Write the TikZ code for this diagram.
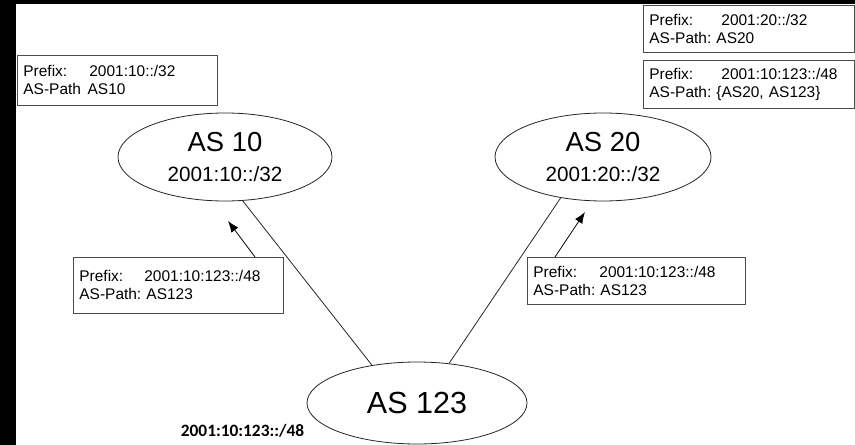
\documentclass[tikz,border=0pt]{standalone}
\usepackage{fontspec}
\setmainfont{Liberation Sans}
\newfontfamily\calibri{Carlito}
\usetikzlibrary{positioning,shapes,arrows.meta}
\frenchspacing

\begin{document}
\begin{tikzpicture}[x=0.75pt,y=-0.75pt,
  asnode/.style={draw=black!85, ellipse, inner sep=0pt, line width=0.6pt, align=center},
  infobox/.style={draw=black!70, rectangle, anchor=north west, inner xsep=4.5pt, inner ysep=0pt,
    line width=0.6pt, align=left, font=\fontsize{11.6}{13.5}\selectfont},
  big/.style={font=\fontsize{20.6}{22}\selectfont},
  link/.style={draw=black!85, line width=0.6pt},
  adv/.style={draw=black, line width=0.6pt, -{Latex[length=8.5pt,width=6.5pt]}}]
\useasboundingbox (0,0) rectangle (855,445);
\fill[black] (0,0) rectangle (855,445);
\fill[white] (16,4) rectangle (855,445);
\node[infobox, minimum width=150pt, minimum height=37.5pt, text width=141pt] (pfx10) at (17,55)
  {\makebox[49.5pt][l]{Prefix:}2001:10::/32\\AS-Path\hspace{5pt}AS10};
\node[infobox, minimum width=158.25pt, minimum height=35.25pt, text width=149.25pt] (pfx20) at (643,5)
  {\makebox[54pt][l]{Prefix:}2001:20::/32\\AS-Path: AS20};
\node[infobox, minimum width=158.25pt, minimum height=36pt, text width=149.25pt] (pfx123r) at (643,60)
  {\makebox[54pt][l]{Prefix:}2001:10:123::/48\\AS-Path: \{AS20, AS123\}};
\node[infobox, minimum width=157.5pt, minimum height=42pt, text width=148.5pt] (adv10) at (73,257)
  {\makebox[48.75pt][l]{Prefix:}2001:10:123::/48\\AS-Path: AS123};
\node[infobox, minimum width=163.5pt, minimum height=35.25pt, text width=154.5pt] (adv20) at (527,257)
  {\makebox[49.5pt][l]{Prefix:}2001:10:123::/48\\AS-Path: AS123};
\node[asnode, big, minimum width=160.5pt, minimum height=66pt] (as10) at (225,157)
  {AS 10\\\fontsize{15.5}{22}\selectfont 2001:10::/32};
\node[asnode, big, minimum width=162pt, minimum height=66pt] (as20) at (603,157)
  {AS 20\\\fontsize{15.5}{22}\selectfont 2001:20::/32};
\node[asnode, font=\fontsize{22.9}{26}\selectfont, minimum width=165pt, minimum height=61.5pt] (as123) at (417,403)
  {AS 123};
\node[font=\calibri\bfseries\fontsize{13}{15}\selectfont] (origin) at (242.5,431) {2001:10:123::/48};
\draw[link] (as10.-68) -- (as123.140);
\draw[link] (as123.51) -- (as20.-136);
\coordinate (tip10) at (228,221);
\coordinate (tip20) at (585,212);
\draw[adv] ([xshift=136.5pt]adv10.north west) -- (tip10);
\draw[adv] ([xshift=21pt]adv20.north west) -- (tip20);
\end{tikzpicture}
\end{document}
